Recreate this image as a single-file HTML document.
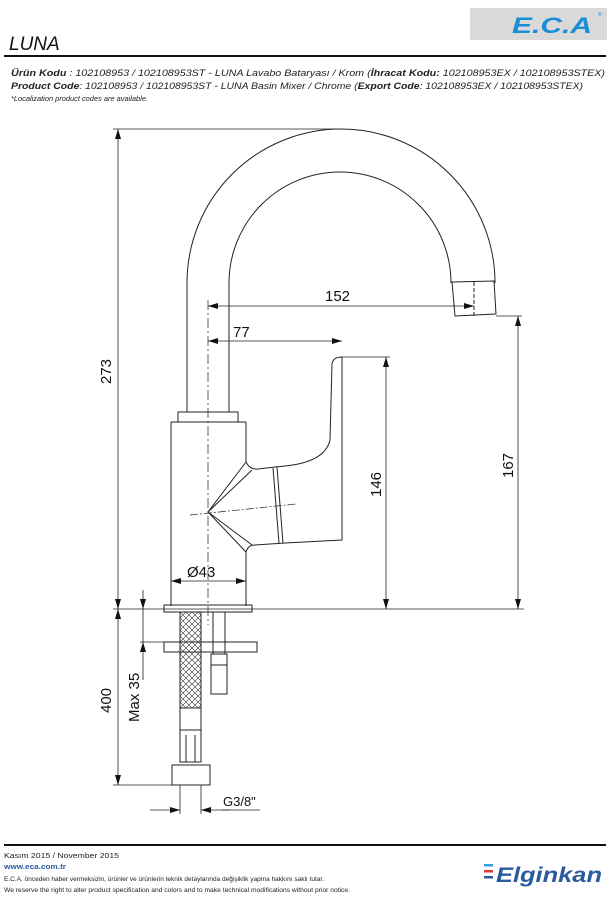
<!DOCTYPE html>
<html><head><meta charset="utf-8"><style>
html,body{margin:0;padding:0;background:#fff;width:610px;height:900px;overflow:hidden}
svg{display:block}
</style></head><body>
<svg width="610" height="900" viewBox="0 0 610 900" xmlns="http://www.w3.org/2000/svg" font-family="Liberation Sans, sans-serif">
<defs>
<marker id="a" viewBox="0 0 10 6" refX="10" refY="3" markerWidth="10" markerHeight="6" orient="auto-start-reverse" markerUnits="userSpaceOnUse"><path d="M0,0 L10,3 L0,6z" fill="#111"/></marker>
<pattern id="br" width="6" height="6" patternUnits="userSpaceOnUse"><path d="M0,0L6,6M6,0L0,6" stroke="#333" stroke-width="0.6"/></pattern>
</defs>
<!-- header -->
<rect x="470" y="8" width="137" height="32" fill="#d9d9d9"/>
<text x="512" y="33" font-size="22" font-weight="bold" font-style="italic" fill="#1a8fd6" textLength="80" lengthAdjust="spacingAndGlyphs">E.C.A</text>
<text x="598" y="16" font-size="5" fill="#1a8fd6">®</text>
<text x="9" y="50" font-size="19" font-style="italic" fill="#111">LUNA</text>
<rect x="4" y="55" width="602" height="2" fill="#111"/>
<g font-size="9.5" font-style="italic" fill="#222">
<text x="11" y="76" textLength="594" lengthAdjust="spacingAndGlyphs"><tspan font-weight="bold">Ürün Kodu</tspan>      : 102108953 / 102108953ST - LUNA Lavabo Bataryası / Krom (<tspan font-weight="bold">İhracat Kodu:</tspan> 102108953EX / 102108953STEX)</text>
<text x="11" y="89" textLength="572" lengthAdjust="spacingAndGlyphs"><tspan font-weight="bold">Product Code</tspan>: 102108953 / 102108953ST - LUNA Basin Mixer / Chrome (<tspan font-weight="bold">Export Code</tspan>: 102108953EX / 102108953STEX)</text>
<text x="11" y="101" font-size="7" textLength="137" lengthAdjust="spacingAndGlyphs">*Localization product codes are available.</text>
</g>
<!-- drawing -->
<g fill="none" stroke="#222" stroke-width="1">
<path d="M187,412 L187,283 A154,154 0 0 1 495,283"/>
<path d="M229,412 L229,283 A111,111 0 0 1 451,283"/>
<path d="M452,282 L494,281 L496,314 L455,316 Z"/>
<line x1="474" y1="282" x2="474" y2="316" stroke-dasharray="4,2"/>
<rect x="178" y="412" width="60" height="10"/>
<path d="M171,422 L171,606 M246,422 L246,462 M246,552 L246,606 M171,422 L246,422"/>
<path d="M246,462 L208,512 L246,552 M252,470 L208,512 L252,545 M246,462 Q250,470 258,469 M246,552 Q248,545 255,545"/>
<path d="M258,469 L275,467 L285,466 Q325,462 330,440 L332,364 Q333,357 342,357 L342,540 L285,543 L255,545"/>
<path d="M273,468 L279,543 M277,467 L283,543"/>
<line x1="190" y1="515" x2="296" y2="504" stroke-dasharray="8,2,2,2" stroke-width="0.7"/>
<line x1="208" y1="300" x2="208" y2="625" stroke-dasharray="10,3,2,3" stroke-width="0.7"/>
<!-- base -->
<rect x="164" y="605" width="88" height="7"/>
<rect x="164" y="642" width="93" height="10"/>
<rect x="180" y="612" width="21" height="96" fill="url(#br)"/>
<rect x="213" y="612" width="12" height="42"/>
<rect x="211" y="654" width="16" height="40"/>
<line x1="211" y1="665" x2="227" y2="665"/>
<rect x="180" y="730" width="21" height="32"/>
<path d="M186,735 L186,762 M195,735 L195,762"/>
<rect x="172" y="765" width="38" height="20"/>
<line x1="180" y1="708" x2="180" y2="730"/><line x1="201" y1="708" x2="201" y2="730"/>
</g>
<!-- dims -->
<g stroke="#222" stroke-width="0.8" fill="none">
<line x1="113" y1="129" x2="340" y2="129"/>
<line x1="113" y1="609" x2="524" y2="609"/>
<line x1="113" y1="785" x2="172" y2="785"/>
<line x1="118" y1="129" x2="118" y2="609" marker-start="url(#a)" marker-end="url(#a)"/>
<line x1="118" y1="609" x2="118" y2="785" marker-start="url(#a)" marker-end="url(#a)"/>
<line x1="143" y1="590" x2="143" y2="609" marker-end="url(#a)"/>
<line x1="143" y1="609" x2="143" y2="642"/>
<line x1="143" y1="680" x2="143" y2="642" marker-end="url(#a)"/>
<line x1="140" y1="642" x2="164" y2="642"/>
<line x1="208" y1="306" x2="474" y2="306" marker-start="url(#a)" marker-end="url(#a)"/>
<line x1="208" y1="341" x2="342" y2="341" marker-start="url(#a)" marker-end="url(#a)"/>
<line x1="342" y1="357" x2="390" y2="357"/>
<line x1="386" y1="357" x2="386" y2="609" marker-start="url(#a)" marker-end="url(#a)"/>
<line x1="496" y1="316" x2="522" y2="316"/>
<line x1="518" y1="316" x2="518" y2="609" marker-start="url(#a)" marker-end="url(#a)"/>
<line x1="171" y1="581" x2="246" y2="581" marker-start="url(#a)" marker-end="url(#a)"/>
<line x1="180" y1="785" x2="180" y2="814"/><line x1="201" y1="785" x2="201" y2="814"/>
<line x1="150" y1="810" x2="180" y2="810" marker-end="url(#a)"/>
<line x1="230" y1="810" x2="201" y2="810" marker-end="url(#a)"/>
<line x1="222" y1="810" x2="260" y2="810"/>
</g>
<g font-size="15" fill="#111">
<text x="325" y="301">152</text>
<text x="233" y="337">77</text>
<text x="187" y="577">Ø43</text>
<text x="223" y="806" font-size="13">G3/8"</text>
<text transform="translate(111,384) rotate(-90)">273</text>
<text transform="translate(111,713) rotate(-90)">400</text>
<text transform="translate(139,722) rotate(-90)">Max 35</text>
<text transform="translate(381,497) rotate(-90)">146</text>
<text transform="translate(513,478) rotate(-90)">167</text>
</g>
<!-- footer -->
<rect x="4" y="844" width="602" height="2" fill="#111"/>
<g font-size="7" fill="#222">
<text x="4" y="858" textLength="115" lengthAdjust="spacingAndGlyphs">Kasım 2015 / November 2015</text>
<text x="4" y="869" font-weight="bold" fill="#2a5aa0" textLength="62" lengthAdjust="spacingAndGlyphs">www.eca.com.tr</text>
<text x="4" y="881" font-size="6.2" textLength="320" lengthAdjust="spacingAndGlyphs">E.C.A. önceden haber vermeksizin, ürünler ve ürünlerin teknik detaylarında değişiklik yapma hakkını saklı tutar.</text>
<text x="4" y="892" font-size="6.2" textLength="346" lengthAdjust="spacingAndGlyphs">We reserve the right to alter product specification and colors and to make technical modifications without prior notice.</text>
</g>
<rect x="484" y="864" width="9" height="2.5" fill="#3aa0dc"/>
<rect x="484" y="870" width="9" height="2.5" fill="#e23a3a"/>
<rect x="484" y="876" width="9" height="2.5" fill="#2a5aa0"/>
<text x="496" y="882" font-size="21" font-style="italic" font-weight="bold" fill="#2a5aa0" textLength="106" lengthAdjust="spacingAndGlyphs">Elginkan</text>
</svg>
</body></html>
